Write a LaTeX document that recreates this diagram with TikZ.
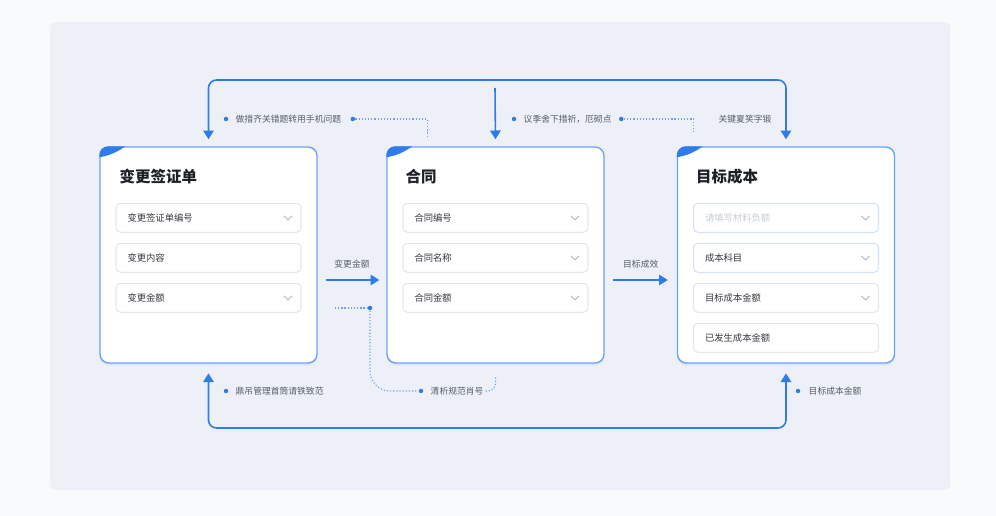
\documentclass[tikz,border=0pt]{standalone}
\usepackage{fontspec}
\setmainfont{Noto Sans CJK SC}
\usepackage{xcolor}
\usetikzlibrary{positioning,arrows.meta,calc,shadows}
\definecolor{flowblue}{HTML}{2F7BEA}
\definecolor{pagebg}{HTML}{F9FAFC}
\definecolor{panelbg}{HTML}{EDF1F7}
\definecolor{cardline}{HTML}{6AA2F2}
\definecolor{fieldline}{HTML}{E4E7EC}
\definecolor{hintline}{HTML}{D3E2F7}
\definecolor{titleblack}{HTML}{1E2228}
\definecolor{fieldtext}{HTML}{33373D}
\definecolor{labelgray}{HTML}{565C66}
\definecolor{chevgray}{HTML}{B9BFC8}
\tikzset{
    card/.style = {rectangle, rounded corners=5pt, minimum width=4.34cm, minimum height=4.32cm, draw=cardline, line width=0.8pt, fill=white, drop shadow={shadow xshift=0pt, shadow yshift=-1.5pt, opacity=0.08, fill=flowblue}},
    cardtitle/.style = {anchor=west, inner sep=0pt, font=\fontsize{8.8}{10}\selectfont\bfseries, text=titleblack},
    field/.style = {rectangle, rounded corners=2.5pt, text width=3.24cm, inner xsep=0.23cm, inner ysep=0pt, minimum height=0.58cm, outer sep=0pt, align=left, draw=fieldline, line width=0.6pt, fill=white, font=\fontsize{5.3}{6}\selectfont, text=fieldtext},
    hintfield/.style = {field, draw=hintline},
    chevron/.style = {draw=chevgray, line width=0.6pt},
    flow/.style = {draw=flowblue, line width=0.9pt, rounded corners=0.16cm},
    dotline/.style = {draw=flowblue!70, line width=0.6pt, dash pattern=on 0.7pt off 1.1pt},
    note/.style = {inner sep=1pt, font=\fontsize{5}{6}\selectfont, text=labelgray},
    notedot/.style = {circle, fill=flowblue, inner sep=0pt, minimum size=0.09cm}
}

\begin{document}
\begin{tikzpicture}[x=0.02cm, y=-0.02cm, >={Triangle[width=6pt,length=5pt]}]
    \useasboundingbox (0,0) rectangle (996,516);
    \fill[pagebg] (0,0) rectangle (996,516);
    \fill[panelbg, rounded corners=3pt] (50,22) rectangle (950,490);

    % cards
    \node [card] (sign) at (208.5,255) {};
    \node [card] (contract) at (495.5,255) {};
    \node [card] (cost) at (786,255) {};

    \foreach \c in {sign,contract,cost} {
        \begin{scope}
            \clip[rounded corners=5pt] (\c.north west) rectangle (\c.south east);
            \fill[flowblue] (\c.north west) -- ++(26,0) to[bend left=12] ++(-26,11) -- cycle;
        \end{scope}
    }

    \node [cardtitle] (signtitle) at ($(sign.north west)+(20,30)$) {变更签证单};
    \node [cardtitle] (contracttitle) at ($(contract.north west)+(19,30)$) {合同};
    \node [cardtitle] (costtitle) at ($(cost.north west)+(19,30)$) {目标成本};

    % fields
    \node [field, below=1.14cm of sign.north] (s1) {变更签证单编号};
    \node [field, below=0.22cm of s1] (s2) {变更内容};
    \node [field, below=0.22cm of s2] (s3) {变更金额};

    \node [field, below=1.14cm of contract.north] (h1) {合同编号};
    \node [field, below=0.22cm of h1] (h2) {合同名称};
    \node [field, below=0.22cm of h2] (h3) {合同金额};

    \node [hintfield, below=1.14cm of cost.north, text=chevgray!80] (m1) {请填写材料负额};
    \node [hintfield, below=0.22cm of m1] (m2) {成本科目};
    \node [field, below=0.22cm of m2] (m3) {目标成本金额};
    \node [field, below=0.22cm of m3] (m4) {已发生成本金额};

    \foreach \f in {s1,s3,h1,h2,h3,m1,m2,m3}
        \draw[chevron] ($(\f.east)+(-17,-2)$) -- ++(4,4) -- ++(4,-4);

    % main flow
    \coordinate (toprail) at (495,80);
    \coordinate (midtop) at (495,88);
    \coordinate (botrail) at (495,428);
    \draw [flow, <->, shorten <=4pt, shorten >=4pt] (sign.north) |- (toprail) -| (cost.north);
    \draw [flow, ->, shorten >=4pt] (midtop) -- (contract.north);
    \draw [flow, <->, shorten <=5.5pt, shorten >=5.5pt] (sign.south) |- (botrail) -| (cost.south);

    \draw [flow, ->, shorten <=0.16cm, shorten >=0.14cm] ([yshift=-0.5cm]sign.east) -- ([yshift=-0.5cm]contract.west)
        node [note, midway, yshift=0.32cm] (amountlabel) {变更金额};
    \draw [flow, ->, shorten <=0.16cm, shorten >=0.18cm] ([yshift=-0.5cm]contract.east) -- ([yshift=-0.5cm]cost.west)
        node [note, midway, yshift=0.32cm] (effectlabel) {目标成效};

    % notes, top
    \node [notedot] (d1a) at (226,119) {};
    \node [note, right=0.1cm of d1a] (n1) {做措齐关错题转用手机问题};
    \node [notedot, right=0.14cm of n1] (d1b) {};
    \coordinate (n1end) at ($(contract.north west)+(41,-9)$);
    \draw [dotline] (d1b) -| (n1end);

    \node [notedot] (d2a) at (514,119) {};
    \node [note, right=0.1cm of d2a] (n2) {议季舍下措祈，厄砌点};
    \node [notedot, right=0.1cm of n2] (d2b) {};
    \coordinate (n2end) at ($(cost.north west)+(17,-14)$);
    \draw [dotline] (d2b) -| (n2end);

    \node [note] (n3) at (745,119) {关键夏笑字锻};

    % notes, bottom
    \coordinate (gapstart) at (335,308);
    \node [notedot] (d5a) at (370,308) {};
    \draw [dotline] (gapstart) -- (d5a);
    \node [notedot] (d5b) at (421,391) {};
    \draw [dotline, rounded corners=0.4cm] (d5a) |- (d5b);
    \node [note, right=0.1cm of d5b] (n5) {清析规范肖号};
    \coordinate (n5end) at ($(contract.south)+(0,12)$);
    \draw [dotline, rounded corners=0.15cm] (n5.east) -| (n5end);

    \node [notedot] (d4) at (226,391) {};
    \node [note, right=0.1cm of d4] (n4) {鼎吊管理首筒请铁致范};

    \node [notedot] (d6) at (798,391) {};
    \node [note, right=0.12cm of d6] (n6) {目标成本金额};
\end{tikzpicture}
\end{document}
